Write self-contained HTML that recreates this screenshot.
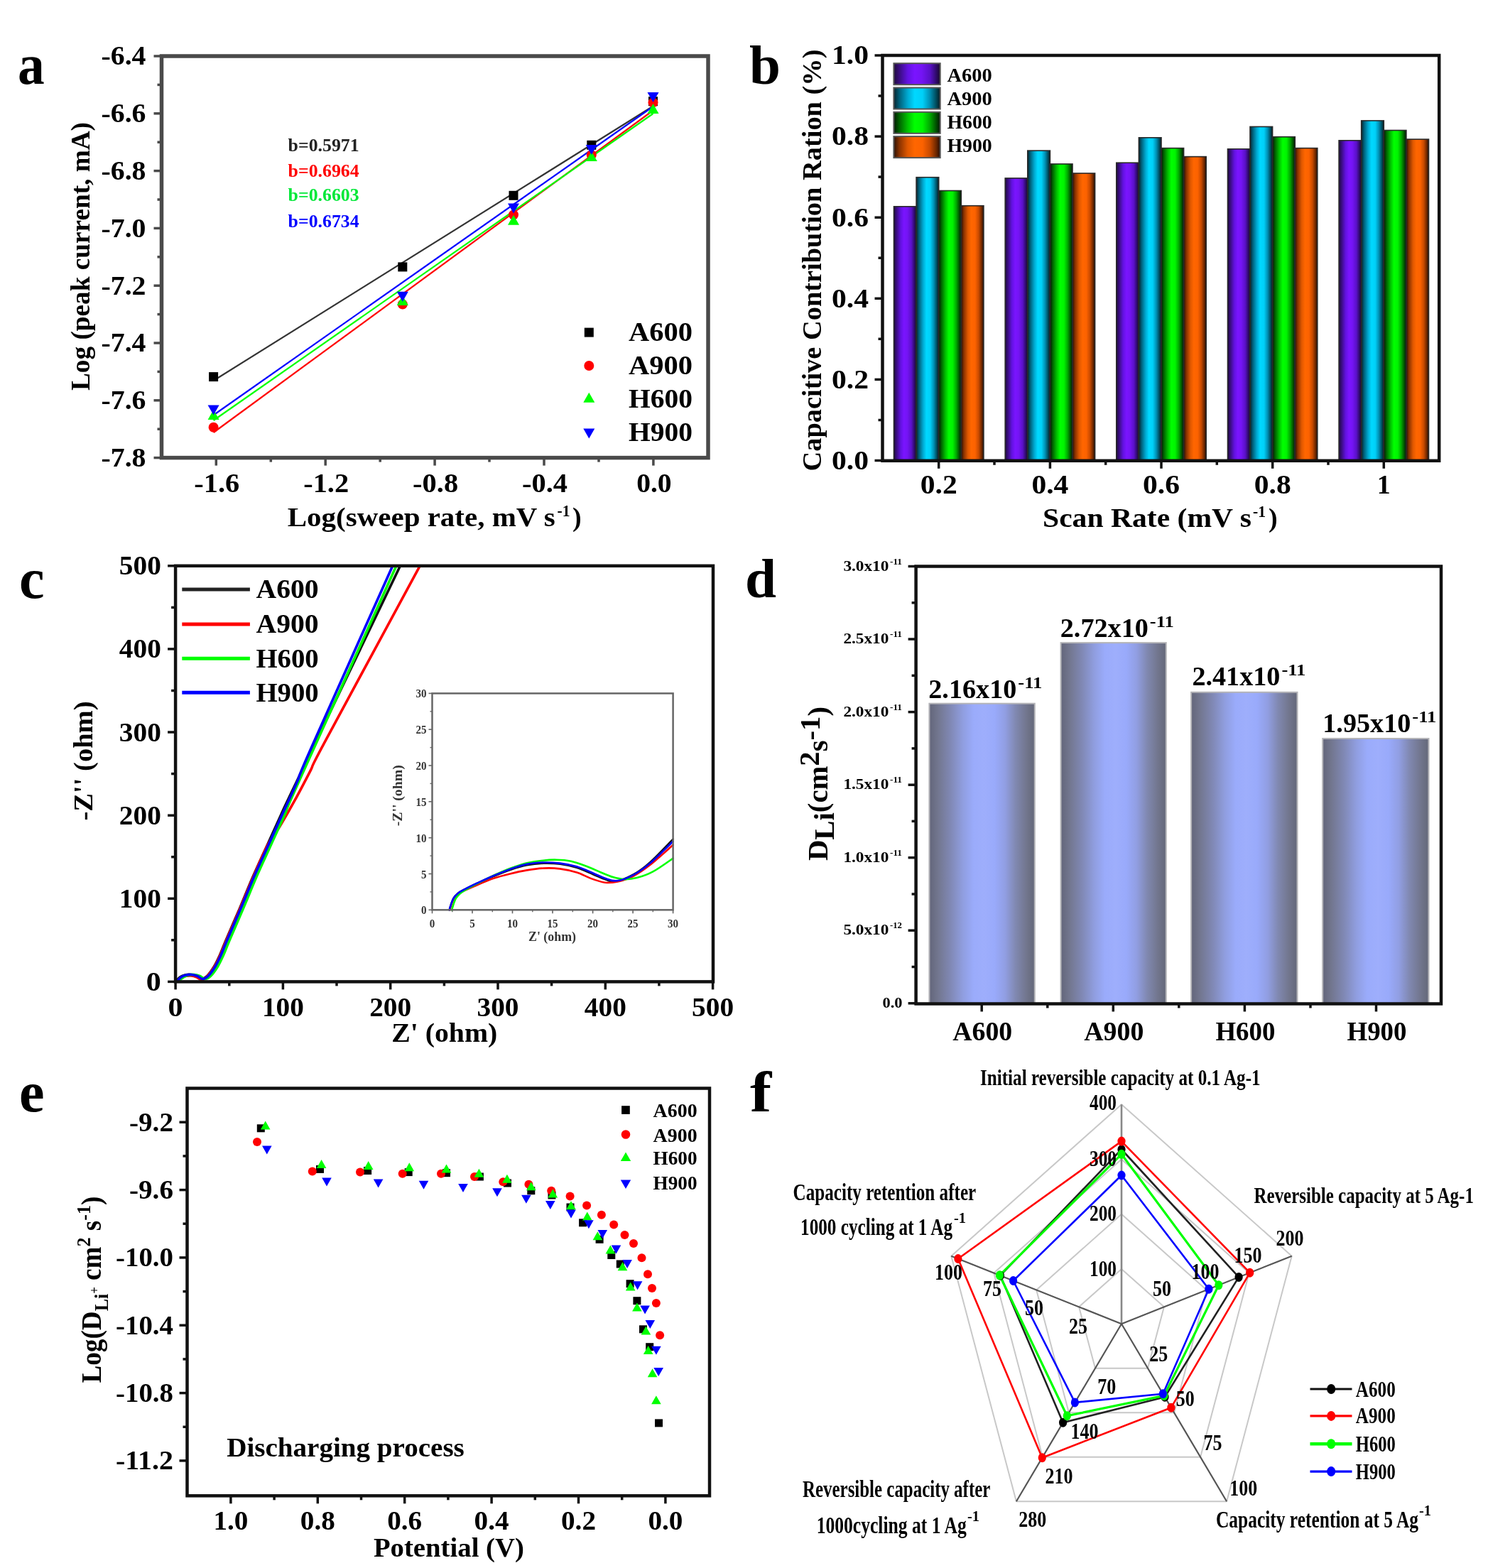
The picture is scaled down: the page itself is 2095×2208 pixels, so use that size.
<!DOCTYPE html><html><head><meta charset="utf-8"><title>Figure</title><style>html,body{margin:0;padding:0;background:#fff;width:2095px;height:2208px;overflow:hidden}svg{display:block}</style></head><body><svg width="2095" height="2208" viewBox="0 0 2095 2208" font-family="'Liberation Serif','Times New Roman',serif" font-weight="bold"><defs><linearGradient id="gpu" x1="0" y1="0" x2="1" y2="0"><stop offset="0" stop-color="#1e0a3c"/><stop offset="0.12" stop-color="#3a0d80"/><stop offset="0.3" stop-color="#6212e0"/><stop offset="0.45" stop-color="#7a14ff"/><stop offset="0.6" stop-color="#7414f4"/><stop offset="0.78" stop-color="#5a10c8"/><stop offset="0.92" stop-color="#2e0a68"/><stop offset="1" stop-color="#180628"/></linearGradient><linearGradient id="gcy" x1="0" y1="0" x2="1" y2="0"><stop offset="0" stop-color="#06232c"/><stop offset="0.12" stop-color="#00607a"/><stop offset="0.3" stop-color="#00a8d0"/><stop offset="0.45" stop-color="#00d8ff"/><stop offset="0.62" stop-color="#00d0f8"/><stop offset="0.78" stop-color="#0090b4"/><stop offset="0.92" stop-color="#004858"/><stop offset="1" stop-color="#041820"/></linearGradient><linearGradient id="ggr" x1="0" y1="0" x2="1" y2="0"><stop offset="0" stop-color="#021802"/><stop offset="0.12" stop-color="#006400"/><stop offset="0.3" stop-color="#00c000"/><stop offset="0.45" stop-color="#00ff00"/><stop offset="0.62" stop-color="#00f400"/><stop offset="0.78" stop-color="#00a800"/><stop offset="0.92" stop-color="#004c00"/><stop offset="1" stop-color="#021402"/></linearGradient><linearGradient id="gor" x1="0" y1="0" x2="1" y2="0"><stop offset="0" stop-color="#2a1004"/><stop offset="0.12" stop-color="#8a3200"/><stop offset="0.3" stop-color="#e05800"/><stop offset="0.45" stop-color="#ff6600"/><stop offset="0.62" stop-color="#fc6200"/><stop offset="0.78" stop-color="#c84a00"/><stop offset="0.92" stop-color="#6a2600"/><stop offset="1" stop-color="#200a02"/></linearGradient><linearGradient id="gbl" x1="0" y1="0" x2="1" y2="0"><stop offset="0" stop-color="#62657a"/><stop offset="0.08" stop-color="#72768e"/><stop offset="0.2" stop-color="#8088b4"/><stop offset="0.32" stop-color="#909ee0"/><stop offset="0.42" stop-color="#9aabfb"/><stop offset="0.52" stop-color="#9eaefc"/><stop offset="0.62" stop-color="#99aafb"/><stop offset="0.72" stop-color="#919ee2"/><stop offset="0.82" stop-color="#8088b0"/><stop offset="0.92" stop-color="#72768e"/><stop offset="1" stop-color="#646879"/></linearGradient><clipPath id="clipc"><rect x="247.1" y="796.8" width="756.9" height="585.6000000000001"/></clipPath></defs><rect width="2095" height="2208" fill="#fff"/><text x="24.9" y="118" font-size="80" textLength="37.7" lengthAdjust="spacingAndGlyphs">a</text>
<line x1="216.5" y1="79" x2="227.5" y2="79" stroke="#4a4a4a" stroke-width="3.5"/>
<text x="205.5" y="91.3" font-size="38" text-anchor="end" textLength="63" lengthAdjust="spacingAndGlyphs">-6.4</text>
<line x1="221.5" y1="119.4" x2="227.5" y2="119.4" stroke="#4a4a4a" stroke-width="3.5"/>
<line x1="216.5" y1="159.8" x2="227.5" y2="159.8" stroke="#4a4a4a" stroke-width="3.5"/>
<text x="205.5" y="172.1" font-size="38" text-anchor="end" textLength="63" lengthAdjust="spacingAndGlyphs">-6.6</text>
<line x1="221.5" y1="200.2" x2="227.5" y2="200.2" stroke="#4a4a4a" stroke-width="3.5"/>
<line x1="216.5" y1="240.6" x2="227.5" y2="240.6" stroke="#4a4a4a" stroke-width="3.5"/>
<text x="205.5" y="252.9" font-size="38" text-anchor="end" textLength="63" lengthAdjust="spacingAndGlyphs">-6.8</text>
<line x1="221.5" y1="281" x2="227.5" y2="281" stroke="#4a4a4a" stroke-width="3.5"/>
<line x1="216.5" y1="321.4" x2="227.5" y2="321.4" stroke="#4a4a4a" stroke-width="3.5"/>
<text x="205.5" y="333.7" font-size="38" text-anchor="end" textLength="63" lengthAdjust="spacingAndGlyphs">-7.0</text>
<line x1="221.5" y1="361.8" x2="227.5" y2="361.8" stroke="#4a4a4a" stroke-width="3.5"/>
<line x1="216.5" y1="402.2" x2="227.5" y2="402.2" stroke="#4a4a4a" stroke-width="3.5"/>
<text x="205.5" y="414.5" font-size="38" text-anchor="end" textLength="63" lengthAdjust="spacingAndGlyphs">-7.2</text>
<line x1="221.5" y1="442.6" x2="227.5" y2="442.6" stroke="#4a4a4a" stroke-width="3.5"/>
<line x1="216.5" y1="483" x2="227.5" y2="483" stroke="#4a4a4a" stroke-width="3.5"/>
<text x="205.5" y="495.3" font-size="38" text-anchor="end" textLength="63" lengthAdjust="spacingAndGlyphs">-7.4</text>
<line x1="221.5" y1="523.4" x2="227.5" y2="523.4" stroke="#4a4a4a" stroke-width="3.5"/>
<line x1="216.5" y1="563.8" x2="227.5" y2="563.8" stroke="#4a4a4a" stroke-width="3.5"/>
<text x="205.5" y="576.1" font-size="38" text-anchor="end" textLength="63" lengthAdjust="spacingAndGlyphs">-7.6</text>
<line x1="221.5" y1="604.2" x2="227.5" y2="604.2" stroke="#4a4a4a" stroke-width="3.5"/>
<line x1="216.5" y1="644.6" x2="227.5" y2="644.6" stroke="#4a4a4a" stroke-width="3.5"/>
<text x="205.5" y="656.9" font-size="38" text-anchor="end" textLength="63" lengthAdjust="spacingAndGlyphs">-7.8</text>
<line x1="304.3" y1="644.6" x2="304.3" y2="655.6" stroke="#4a4a4a" stroke-width="3.5"/>
<text x="305.3" y="693" font-size="38" text-anchor="middle" textLength="64" lengthAdjust="spacingAndGlyphs">-1.6</text>
<line x1="458.2" y1="644.6" x2="458.2" y2="655.6" stroke="#4a4a4a" stroke-width="3.5"/>
<text x="459.2" y="693" font-size="38" text-anchor="middle" textLength="64" lengthAdjust="spacingAndGlyphs">-1.2</text>
<line x1="612.1" y1="644.6" x2="612.1" y2="655.6" stroke="#4a4a4a" stroke-width="3.5"/>
<text x="613.1" y="693" font-size="38" text-anchor="middle" textLength="64" lengthAdjust="spacingAndGlyphs">-0.8</text>
<line x1="766" y1="644.6" x2="766" y2="655.6" stroke="#4a4a4a" stroke-width="3.5"/>
<text x="767" y="693" font-size="38" text-anchor="middle" textLength="64" lengthAdjust="spacingAndGlyphs">-0.4</text>
<line x1="919.9" y1="644.6" x2="919.9" y2="655.6" stroke="#4a4a4a" stroke-width="3.5"/>
<text x="920.9" y="693" font-size="38" text-anchor="middle" textLength="49.5" lengthAdjust="spacingAndGlyphs">0.0</text>
<line x1="381.3" y1="644.6" x2="381.3" y2="650.6" stroke="#4a4a4a" stroke-width="3.5"/>
<line x1="535.2" y1="644.6" x2="535.2" y2="650.6" stroke="#4a4a4a" stroke-width="3.5"/>
<line x1="689" y1="644.6" x2="689" y2="650.6" stroke="#4a4a4a" stroke-width="3.5"/>
<line x1="843" y1="644.6" x2="843" y2="650.6" stroke="#4a4a4a" stroke-width="3.5"/>
<rect x="227.5" y="79" width="769.5" height="565.6" fill="none" stroke="#4a4a4a" stroke-width="5.5"/>
<text x="126.3" y="361" font-size="37.5" text-anchor="middle" textLength="378" lengthAdjust="spacingAndGlyphs" transform="rotate(-90 126.3 361)">Log (peak current, mA)</text>
<text x="404.8" y="740.8" font-size="38" textLength="377" lengthAdjust="spacingAndGlyphs">Log(sweep rate, mV s</text>
<text x="784.5" y="727" font-size="24" textLength="18" lengthAdjust="spacingAndGlyphs">-1</text>
<text x="806" y="740.8" font-size="38">)</text>
<text x="405.6" y="212.5" font-size="26" textLength="100" lengthAdjust="spacingAndGlyphs" fill="#222">b=0.5971</text>
<text x="405.6" y="248.5" font-size="26" textLength="100" lengthAdjust="spacingAndGlyphs" fill="#ff0000">b=0.6964</text>
<text x="405.6" y="282.6" font-size="26" textLength="100" lengthAdjust="spacingAndGlyphs" fill="#00e838">b=0.6603</text>
<text x="405.6" y="320" font-size="26" textLength="100" lengthAdjust="spacingAndGlyphs" fill="#0000ff">b=0.6734</text>
<line x1="300.6" y1="536" x2="919.5" y2="149.5" stroke="#333333" stroke-width="2.2"/>
<line x1="300.6" y1="609" x2="919.5" y2="155.5" stroke="#ff0000" stroke-width="2.2"/>
<line x1="300.6" y1="592" x2="919.5" y2="160" stroke="#00ff00" stroke-width="2.2"/>
<line x1="300.6" y1="584.5" x2="919.5" y2="150" stroke="#0000ff" stroke-width="2.2"/>
<rect x="294.1" y="524.1" width="13" height="13" fill="#000000"/>
<rect x="560.3" y="369.4" width="13" height="13" fill="#000000"/>
<rect x="716.5" y="268.8" width="13" height="13" fill="#000000"/>
<rect x="826.3" y="197.8" width="13" height="13" fill="#000000"/>
<rect x="913" y="136.2" width="13" height="13" fill="#000000"/>
<circle cx="300.6" cy="601.7" r="7" fill="#ff0000"/>
<circle cx="566.8" cy="428.5" r="7" fill="#ff0000"/>
<circle cx="723" cy="302.5" r="7" fill="#ff0000"/>
<circle cx="832.8" cy="218.3" r="7" fill="#ff0000"/>
<circle cx="919.5" cy="144.4" r="7" fill="#ff0000"/>
<polygon points="300.6,576.9 308.6,590.9 292.6,590.9" fill="#00ff00" stroke="#00ff00" stroke-width="0" stroke-linejoin="round"/>
<polygon points="566.8,416 574.8,430 558.8,430" fill="#00ff00" stroke="#00ff00" stroke-width="0" stroke-linejoin="round"/>
<polygon points="723,302.7 731,316.7 715,316.7" fill="#00ff00" stroke="#00ff00" stroke-width="0" stroke-linejoin="round"/>
<polygon points="832.8,213.1 840.8,227.1 824.8,227.1" fill="#00ff00" stroke="#00ff00" stroke-width="0" stroke-linejoin="round"/>
<polygon points="919.5,145.9 927.5,159.9 911.5,159.9" fill="#00ff00" stroke="#00ff00" stroke-width="0" stroke-linejoin="round"/>
<polygon points="300.6,584.5 308.6,570.5 292.6,570.5" fill="#0000ff" stroke="#0000ff" stroke-width="0" stroke-linejoin="round"/>
<polygon points="566.8,424.7 574.8,410.7 558.8,410.7" fill="#0000ff" stroke="#0000ff" stroke-width="0" stroke-linejoin="round"/>
<polygon points="723,300.6 731,286.6 715,286.6" fill="#0000ff" stroke="#0000ff" stroke-width="0" stroke-linejoin="round"/>
<polygon points="832.8,217.9 840.8,203.9 824.8,203.9" fill="#0000ff" stroke="#0000ff" stroke-width="0" stroke-linejoin="round"/>
<polygon points="919.5,144 927.5,130 911.5,130" fill="#0000ff" stroke="#0000ff" stroke-width="0" stroke-linejoin="round"/>
<rect x="822.8" y="461.6" width="13" height="13" fill="#000000"/>
<text x="885" y="480.4" font-size="37" textLength="90" lengthAdjust="spacingAndGlyphs">A600</text>
<circle cx="829.3" cy="515" r="7" fill="#ff0000"/>
<text x="885" y="527.3" font-size="37" textLength="90" lengthAdjust="spacingAndGlyphs">A900</text>
<polygon points="829.3,552.8 837.3,566.8 821.3,566.8" fill="#00ff00" stroke="#00ff00" stroke-width="0" stroke-linejoin="round"/>
<text x="885" y="574.2" font-size="37" textLength="90" lengthAdjust="spacingAndGlyphs">H600</text>
<polygon points="829.3,617.4 837.3,603.4 821.3,603.4" fill="#0000ff" stroke="#0000ff" stroke-width="0" stroke-linejoin="round"/>
<text x="885" y="621.2" font-size="37" textLength="90" lengthAdjust="spacingAndGlyphs">H900</text>
<text x="1055" y="118" font-size="79">b</text>
<rect x="1258.5" y="290.8" width="31.6" height="358" fill="url(#gpu)" stroke="#2a2a2a" stroke-width="1.6"/>
<rect x="1290.1" y="249.7" width="31.6" height="399.1" fill="url(#gcy)" stroke="#2a2a2a" stroke-width="1.6"/>
<rect x="1321.7" y="268.5" width="31.6" height="380.3" fill="url(#ggr)" stroke="#2a2a2a" stroke-width="1.6"/>
<rect x="1353.3" y="289.7" width="31.6" height="359.1" fill="url(#gor)" stroke="#2a2a2a" stroke-width="1.6"/>
<rect x="1415.2" y="250.9" width="31.6" height="397.9" fill="url(#gpu)" stroke="#2a2a2a" stroke-width="1.6"/>
<rect x="1446.8" y="212.1" width="31.6" height="436.7" fill="url(#gcy)" stroke="#2a2a2a" stroke-width="1.6"/>
<rect x="1478.4" y="230.9" width="31.6" height="417.9" fill="url(#ggr)" stroke="#2a2a2a" stroke-width="1.6"/>
<rect x="1510" y="244" width="31.6" height="404.8" fill="url(#gor)" stroke="#2a2a2a" stroke-width="1.6"/>
<rect x="1571.8" y="229.2" width="31.6" height="419.6" fill="url(#gpu)" stroke="#2a2a2a" stroke-width="1.6"/>
<rect x="1603.4" y="193.8" width="31.6" height="455" fill="url(#gcy)" stroke="#2a2a2a" stroke-width="1.6"/>
<rect x="1635" y="208.6" width="31.6" height="440.2" fill="url(#ggr)" stroke="#2a2a2a" stroke-width="1.6"/>
<rect x="1666.6" y="220.6" width="31.6" height="428.2" fill="url(#gor)" stroke="#2a2a2a" stroke-width="1.6"/>
<rect x="1728.5" y="209.8" width="31.6" height="439" fill="url(#gpu)" stroke="#2a2a2a" stroke-width="1.6"/>
<rect x="1760" y="178.4" width="31.6" height="470.4" fill="url(#gcy)" stroke="#2a2a2a" stroke-width="1.6"/>
<rect x="1791.7" y="192.7" width="31.6" height="456.1" fill="url(#ggr)" stroke="#2a2a2a" stroke-width="1.6"/>
<rect x="1823.2" y="208.6" width="31.6" height="440.2" fill="url(#gor)" stroke="#2a2a2a" stroke-width="1.6"/>
<rect x="1885.1" y="197.8" width="31.6" height="451" fill="url(#gpu)" stroke="#2a2a2a" stroke-width="1.6"/>
<rect x="1916.7" y="169.9" width="31.6" height="478.9" fill="url(#gcy)" stroke="#2a2a2a" stroke-width="1.6"/>
<rect x="1948.3" y="183.5" width="31.6" height="465.3" fill="url(#ggr)" stroke="#2a2a2a" stroke-width="1.6"/>
<rect x="1979.9" y="196.1" width="31.6" height="452.7" fill="url(#gor)" stroke="#2a2a2a" stroke-width="1.6"/>
<line x1="1231.5" y1="648.5" x2="1242.5" y2="648.5" stroke="#111" stroke-width="3.5"/>
<text x="1223" y="660.8" font-size="38" text-anchor="end" textLength="52" lengthAdjust="spacingAndGlyphs">0.0</text>
<line x1="1236.5" y1="591.5" x2="1242.5" y2="591.5" stroke="#111" stroke-width="3.5"/>
<line x1="1231.5" y1="534.4" x2="1242.5" y2="534.4" stroke="#111" stroke-width="3.5"/>
<text x="1223" y="546.7" font-size="38" text-anchor="end" textLength="52" lengthAdjust="spacingAndGlyphs">0.2</text>
<line x1="1236.5" y1="477.3" x2="1242.5" y2="477.3" stroke="#111" stroke-width="3.5"/>
<line x1="1231.5" y1="420.3" x2="1242.5" y2="420.3" stroke="#111" stroke-width="3.5"/>
<text x="1223" y="432.6" font-size="38" text-anchor="end" textLength="52" lengthAdjust="spacingAndGlyphs">0.4</text>
<line x1="1236.5" y1="363.2" x2="1242.5" y2="363.2" stroke="#111" stroke-width="3.5"/>
<line x1="1231.5" y1="306.2" x2="1242.5" y2="306.2" stroke="#111" stroke-width="3.5"/>
<text x="1223" y="318.5" font-size="38" text-anchor="end" textLength="52" lengthAdjust="spacingAndGlyphs">0.6</text>
<line x1="1236.5" y1="249.1" x2="1242.5" y2="249.1" stroke="#111" stroke-width="3.5"/>
<line x1="1231.5" y1="192.1" x2="1242.5" y2="192.1" stroke="#111" stroke-width="3.5"/>
<text x="1223" y="204.4" font-size="38" text-anchor="end" textLength="52" lengthAdjust="spacingAndGlyphs">0.8</text>
<line x1="1236.5" y1="135" x2="1242.5" y2="135" stroke="#111" stroke-width="3.5"/>
<line x1="1231.5" y1="78" x2="1242.5" y2="78" stroke="#111" stroke-width="3.5"/>
<text x="1223" y="90.3" font-size="38" text-anchor="end" textLength="52" lengthAdjust="spacingAndGlyphs">1.0</text>
<line x1="1321.7" y1="648.8" x2="1321.7" y2="659.8" stroke="#111" stroke-width="3.5"/>
<text x="1321.7" y="695.4" font-size="38" text-anchor="middle" textLength="52" lengthAdjust="spacingAndGlyphs">0.2</text>
<line x1="1400" y1="648.8" x2="1400" y2="654.8" stroke="#111" stroke-width="3.5"/>
<line x1="1478.4" y1="648.8" x2="1478.4" y2="659.8" stroke="#111" stroke-width="3.5"/>
<text x="1478.4" y="695.4" font-size="38" text-anchor="middle" textLength="52" lengthAdjust="spacingAndGlyphs">0.4</text>
<line x1="1556.7" y1="648.8" x2="1556.7" y2="654.8" stroke="#111" stroke-width="3.5"/>
<line x1="1635" y1="648.8" x2="1635" y2="659.8" stroke="#111" stroke-width="3.5"/>
<text x="1635" y="695.4" font-size="38" text-anchor="middle" textLength="52" lengthAdjust="spacingAndGlyphs">0.6</text>
<line x1="1713.3" y1="648.8" x2="1713.3" y2="654.8" stroke="#111" stroke-width="3.5"/>
<line x1="1791.7" y1="648.8" x2="1791.7" y2="659.8" stroke="#111" stroke-width="3.5"/>
<text x="1791.7" y="695.4" font-size="38" text-anchor="middle" textLength="52" lengthAdjust="spacingAndGlyphs">0.8</text>
<line x1="1870" y1="648.8" x2="1870" y2="654.8" stroke="#111" stroke-width="3.5"/>
<line x1="1948.3" y1="648.8" x2="1948.3" y2="659.8" stroke="#111" stroke-width="3.5"/>
<text x="1948.3" y="695.4" font-size="38" text-anchor="middle">1</text>
<rect x="1242.5" y="78" width="783.7" height="570.8" fill="none" stroke="#111" stroke-width="4.5"/>
<text x="1156" y="366.5" font-size="38" text-anchor="middle" textLength="594" lengthAdjust="spacingAndGlyphs" transform="rotate(-90 1156 366.5)">Capacitive Contribution Ration (%)</text>
<text x="1468" y="741.5" font-size="38" textLength="294" lengthAdjust="spacingAndGlyphs">Scan Rate (mV s</text>
<text x="1764" y="727.5" font-size="24" textLength="18" lengthAdjust="spacingAndGlyphs">-1</text>
<text x="1786" y="741.5" font-size="38">)</text>
<rect x="1258.4" y="89.2" width="65.3" height="30" fill="url(#gpu)" stroke="#555" stroke-width="2"/>
<text x="1333.4" y="115.3" font-size="28" textLength="63.4" lengthAdjust="spacingAndGlyphs">A600</text>
<rect x="1258.4" y="123.5" width="65.3" height="30" fill="url(#gcy)" stroke="#555" stroke-width="2"/>
<text x="1333.4" y="148.3" font-size="28" textLength="63.4" lengthAdjust="spacingAndGlyphs">A900</text>
<rect x="1258.4" y="157.8" width="65.3" height="30" fill="url(#ggr)" stroke="#555" stroke-width="2"/>
<text x="1333.4" y="181.3" font-size="28" textLength="63.4" lengthAdjust="spacingAndGlyphs">H600</text>
<rect x="1258.4" y="192.1" width="65.3" height="30" fill="url(#gor)" stroke="#555" stroke-width="2"/>
<text x="1333.4" y="214.3" font-size="28" textLength="63.4" lengthAdjust="spacingAndGlyphs">H900</text>
<text x="27" y="842" font-size="80">c</text>
<line x1="236.1" y1="1382.4" x2="247.1" y2="1382.4" stroke="#111" stroke-width="3.5"/>
<text x="226.8" y="1394.9" font-size="38" text-anchor="end" textLength="21" lengthAdjust="spacingAndGlyphs">0</text>
<line x1="247.1" y1="1382.4" x2="247.1" y2="1393.4" stroke="#111" stroke-width="3.5"/>
<text x="247.1" y="1431.4" font-size="38" text-anchor="middle" textLength="21" lengthAdjust="spacingAndGlyphs">0</text>
<line x1="241.1" y1="1323.8" x2="247.1" y2="1323.8" stroke="#111" stroke-width="3.5"/>
<line x1="322.8" y1="1382.4" x2="322.8" y2="1388.4" stroke="#111" stroke-width="3.5"/>
<line x1="236.1" y1="1265.3" x2="247.1" y2="1265.3" stroke="#111" stroke-width="3.5"/>
<text x="226.8" y="1277.8" font-size="38" text-anchor="end" textLength="59" lengthAdjust="spacingAndGlyphs">100</text>
<line x1="398.4" y1="1382.4" x2="398.4" y2="1393.4" stroke="#111" stroke-width="3.5"/>
<text x="398.4" y="1431.4" font-size="38" text-anchor="middle" textLength="59" lengthAdjust="spacingAndGlyphs">100</text>
<line x1="241.1" y1="1206.7" x2="247.1" y2="1206.7" stroke="#111" stroke-width="3.5"/>
<line x1="474" y1="1382.4" x2="474" y2="1388.4" stroke="#111" stroke-width="3.5"/>
<line x1="236.1" y1="1148.2" x2="247.1" y2="1148.2" stroke="#111" stroke-width="3.5"/>
<text x="226.8" y="1160.7" font-size="38" text-anchor="end" textLength="59" lengthAdjust="spacingAndGlyphs">200</text>
<line x1="549.7" y1="1382.4" x2="549.7" y2="1393.4" stroke="#111" stroke-width="3.5"/>
<text x="549.7" y="1431.4" font-size="38" text-anchor="middle" textLength="59" lengthAdjust="spacingAndGlyphs">200</text>
<line x1="241.1" y1="1089.6" x2="247.1" y2="1089.6" stroke="#111" stroke-width="3.5"/>
<line x1="625.4" y1="1382.4" x2="625.4" y2="1388.4" stroke="#111" stroke-width="3.5"/>
<line x1="236.1" y1="1031" x2="247.1" y2="1031" stroke="#111" stroke-width="3.5"/>
<text x="226.8" y="1043.5" font-size="38" text-anchor="end" textLength="59" lengthAdjust="spacingAndGlyphs">300</text>
<line x1="701" y1="1382.4" x2="701" y2="1393.4" stroke="#111" stroke-width="3.5"/>
<text x="701" y="1431.4" font-size="38" text-anchor="middle" textLength="59" lengthAdjust="spacingAndGlyphs">300</text>
<line x1="241.1" y1="972.5" x2="247.1" y2="972.5" stroke="#111" stroke-width="3.5"/>
<line x1="776.6" y1="1382.4" x2="776.6" y2="1388.4" stroke="#111" stroke-width="3.5"/>
<line x1="236.1" y1="913.9" x2="247.1" y2="913.9" stroke="#111" stroke-width="3.5"/>
<text x="226.8" y="926.4" font-size="38" text-anchor="end" textLength="59" lengthAdjust="spacingAndGlyphs">400</text>
<line x1="852.3" y1="1382.4" x2="852.3" y2="1393.4" stroke="#111" stroke-width="3.5"/>
<text x="852.3" y="1431.4" font-size="38" text-anchor="middle" textLength="59" lengthAdjust="spacingAndGlyphs">400</text>
<line x1="241.1" y1="855.4" x2="247.1" y2="855.4" stroke="#111" stroke-width="3.5"/>
<line x1="927.9" y1="1382.4" x2="927.9" y2="1388.4" stroke="#111" stroke-width="3.5"/>
<line x1="236.1" y1="796.8" x2="247.1" y2="796.8" stroke="#111" stroke-width="3.5"/>
<text x="226.8" y="809.3" font-size="38" text-anchor="end" textLength="59" lengthAdjust="spacingAndGlyphs">500</text>
<line x1="1003.6" y1="1382.4" x2="1003.6" y2="1393.4" stroke="#111" stroke-width="3.5"/>
<text x="1003.6" y="1431.4" font-size="38" text-anchor="middle" textLength="59" lengthAdjust="spacingAndGlyphs">500</text>
<text x="129.7" y="1071.5" font-size="38" text-anchor="middle" textLength="168" lengthAdjust="spacingAndGlyphs" transform="rotate(-90 129.7 1071.5)">-Z'' (ohm)</text>
<text x="551.3" y="1467.4" font-size="38" textLength="149" lengthAdjust="spacingAndGlyphs">Z' (ohm)</text>
<g clip-path="url(#clipc)">
<path d="M248,1381.5 C248.9,1380.6 251.4,1377.4 253.5,1376 C255.6,1374.6 258,1373.6 260.5,1373 C263,1372.4 265.8,1372.2 268.5,1372.5 C271.2,1372.8 274,1373.5 276.5,1374.5 C279,1375.5 281,1378.5 283.5,1378.5 C286,1378.5 288.5,1377.4 291.5,1374.5 C294.5,1371.6 298.5,1365.9 301.5,1361 C304.5,1356.1 306.8,1350.9 309.5,1345 C312.2,1339.1 312.9,1336.3 317.5,1325.5 C322.1,1314.7 330.5,1295.5 337.1,1280.1 C343.7,1264.6 350.3,1247.9 356.9,1232.8 C363.5,1217.7 370,1203.9 376.6,1189.4 C383.2,1174.9 389.4,1160.9 396.3,1146 C403.2,1131.1 389.8,1158.8 418,1100 C446.2,1041.2 540.8,844.2 565.3,793" fill="none" stroke="#111" stroke-width="3.6" stroke-linejoin="round" stroke-linecap="round"/>
<path d="M248.5,1383 C249.4,1382.1 251.9,1378.9 254,1377.5 C256.1,1376.1 258.5,1375.1 261,1374.5 C263.5,1373.9 266.3,1373.8 269,1374 C271.7,1374.2 274.5,1375 277,1376 C279.5,1377 281.5,1380.2 284,1380 C286.5,1379.8 289,1377.7 292,1374.5 C295,1371.3 299,1365.9 302,1361 C305,1356.1 307.3,1350.9 310,1345 C312.7,1339.1 313.4,1336.3 318,1325.5 C322.6,1314.7 331,1295.5 337.6,1280.1 C344.2,1264.6 350.8,1247.9 357.4,1232.8 C364,1217.7 371,1200.9 377.1,1189.4 C383.2,1177.9 387.1,1174.9 393.9,1163.7 C400.6,1152.5 410.4,1135.5 417.6,1122.3 C424.8,1109.1 430.7,1097.6 437.3,1084.8 C443.9,1072 431,1094 457,1045.4 C483,996.8 570.6,835.1 593.3,793" fill="none" stroke="#ff0000" stroke-width="3.6" stroke-linejoin="round" stroke-linecap="round"/>
<path d="M251,1381.5 C252.2,1380.6 256.1,1377.4 258.5,1376 C260.9,1374.6 263,1373.6 265.5,1373 C268,1372.4 270.8,1372.2 273.5,1372.5 C276.2,1372.8 279,1373.5 281.5,1374.5 C284,1375.5 286,1378.5 288.5,1378.5 C291,1378.5 293.5,1377.4 296.5,1374.5 C299.5,1371.6 303.5,1365.9 306.5,1361 C309.5,1356.1 311.8,1350.9 314.5,1345 C317.2,1339.1 317.9,1336.3 322.5,1325.5 C327.1,1314.7 335.5,1295.5 342.1,1280.1 C348.7,1264.6 355.3,1247.9 361.9,1232.8 C368.5,1217.7 375,1203.9 381.6,1189.4 C388.2,1174.9 394.7,1160.9 401.3,1146 C407.9,1131.1 394.6,1158.8 421,1100 C447.4,1041.2 536.6,844.2 559.7,793" fill="none" stroke="#00ff00" stroke-width="3.6" stroke-linejoin="round" stroke-linecap="round"/>
<path d="M249.5,1381.5 C250.4,1380.6 252.9,1377.4 255,1376 C257.1,1374.6 259.5,1373.6 262,1373 C264.5,1372.4 267.3,1372.2 270,1372.5 C272.7,1372.8 275.5,1373.5 278,1374.5 C280.5,1375.5 282.5,1378.5 285,1378.5 C287.5,1378.5 290,1377.4 293,1374.5 C296,1371.6 300,1365.9 303,1361 C306,1356.1 308.3,1350.9 311,1345 C313.7,1339.1 314.4,1336.3 319,1325.5 C323.6,1314.7 332,1295.5 338.6,1280.1 C345.2,1264.6 351.8,1247.9 358.4,1232.8 C365,1217.7 371.5,1203.9 378.1,1189.4 C384.7,1174.9 391.2,1160.5 397.8,1146 C404.4,1131.5 411,1117.7 417.6,1102.6 C424.2,1087.5 414.5,1106.8 437.3,1055.2 C460.1,1003.6 535,836.7 554.5,793" fill="none" stroke="#0000ff" stroke-width="3.6" stroke-linejoin="round" stroke-linecap="round"/>
</g>
<rect x="247.1" y="796.8" width="756.9" height="585.6" fill="none" stroke="#111" stroke-width="4.5"/>
<line x1="256.3" y1="829.9" x2="351.9" y2="829.9" stroke="#222" stroke-width="5"/>
<text x="360.5" y="842.2" font-size="37" textLength="88.2" lengthAdjust="spacingAndGlyphs">A600</text>
<line x1="256.3" y1="879" x2="351.9" y2="879" stroke="#ff0000" stroke-width="5"/>
<text x="360.5" y="891.3" font-size="37" textLength="88.2" lengthAdjust="spacingAndGlyphs">A900</text>
<line x1="256.3" y1="927.2" x2="351.9" y2="927.2" stroke="#00ff00" stroke-width="5"/>
<text x="360.5" y="939.5" font-size="37" textLength="88.2" lengthAdjust="spacingAndGlyphs">H600</text>
<line x1="256.3" y1="975.3" x2="351.9" y2="975.3" stroke="#0000ff" stroke-width="5"/>
<text x="360.5" y="987.6" font-size="37" textLength="88.2" lengthAdjust="spacingAndGlyphs">H900</text>
<line x1="603.5" y1="1281.3" x2="608.5" y2="1281.3" stroke="#666" stroke-width="1.6"/>
<line x1="608.5" y1="1281.3" x2="608.5" y2="1286.3" stroke="#666" stroke-width="1.6"/>
<text x="600.5" y="1287.3" font-size="17" text-anchor="end" textLength="7.5" lengthAdjust="spacingAndGlyphs" fill="#333">0</text>
<text x="608.5" y="1306.3" font-size="17" text-anchor="middle" textLength="7.5" lengthAdjust="spacingAndGlyphs" fill="#333">0</text>
<line x1="605.5" y1="1255.9" x2="608.5" y2="1255.9" stroke="#666" stroke-width="1.4"/>
<line x1="636.8" y1="1281.3" x2="636.8" y2="1284.3" stroke="#666" stroke-width="1.4"/>
<line x1="603.5" y1="1230.5" x2="608.5" y2="1230.5" stroke="#666" stroke-width="1.6"/>
<line x1="665" y1="1281.3" x2="665" y2="1286.3" stroke="#666" stroke-width="1.6"/>
<text x="600.5" y="1236.5" font-size="17" text-anchor="end" textLength="7.5" lengthAdjust="spacingAndGlyphs" fill="#333">5</text>
<text x="665" y="1306.3" font-size="17" text-anchor="middle" textLength="7.5" lengthAdjust="spacingAndGlyphs" fill="#333">5</text>
<line x1="605.5" y1="1205.1" x2="608.5" y2="1205.1" stroke="#666" stroke-width="1.4"/>
<line x1="693.3" y1="1281.3" x2="693.3" y2="1284.3" stroke="#666" stroke-width="1.4"/>
<line x1="603.5" y1="1179.7" x2="608.5" y2="1179.7" stroke="#666" stroke-width="1.6"/>
<line x1="721.5" y1="1281.3" x2="721.5" y2="1286.3" stroke="#666" stroke-width="1.6"/>
<text x="600.5" y="1185.7" font-size="17" text-anchor="end" textLength="15" lengthAdjust="spacingAndGlyphs" fill="#333">10</text>
<text x="721.5" y="1306.3" font-size="17" text-anchor="middle" textLength="15" lengthAdjust="spacingAndGlyphs" fill="#333">10</text>
<line x1="605.5" y1="1154.3" x2="608.5" y2="1154.3" stroke="#666" stroke-width="1.4"/>
<line x1="749.8" y1="1281.3" x2="749.8" y2="1284.3" stroke="#666" stroke-width="1.4"/>
<line x1="603.5" y1="1128.8" x2="608.5" y2="1128.8" stroke="#666" stroke-width="1.6"/>
<line x1="778" y1="1281.3" x2="778" y2="1286.3" stroke="#666" stroke-width="1.6"/>
<text x="600.5" y="1134.8" font-size="17" text-anchor="end" textLength="15" lengthAdjust="spacingAndGlyphs" fill="#333">15</text>
<text x="778" y="1306.3" font-size="17" text-anchor="middle" textLength="15" lengthAdjust="spacingAndGlyphs" fill="#333">15</text>
<line x1="605.5" y1="1103.4" x2="608.5" y2="1103.4" stroke="#666" stroke-width="1.4"/>
<line x1="806.3" y1="1281.3" x2="806.3" y2="1284.3" stroke="#666" stroke-width="1.4"/>
<line x1="603.5" y1="1078" x2="608.5" y2="1078" stroke="#666" stroke-width="1.6"/>
<line x1="834.6" y1="1281.3" x2="834.6" y2="1286.3" stroke="#666" stroke-width="1.6"/>
<text x="600.5" y="1084" font-size="17" text-anchor="end" textLength="15" lengthAdjust="spacingAndGlyphs" fill="#333">20</text>
<text x="834.6" y="1306.3" font-size="17" text-anchor="middle" textLength="15" lengthAdjust="spacingAndGlyphs" fill="#333">20</text>
<line x1="605.5" y1="1052.6" x2="608.5" y2="1052.6" stroke="#666" stroke-width="1.4"/>
<line x1="862.8" y1="1281.3" x2="862.8" y2="1284.3" stroke="#666" stroke-width="1.4"/>
<line x1="603.5" y1="1027.2" x2="608.5" y2="1027.2" stroke="#666" stroke-width="1.6"/>
<line x1="891.1" y1="1281.3" x2="891.1" y2="1286.3" stroke="#666" stroke-width="1.6"/>
<text x="600.5" y="1033.2" font-size="17" text-anchor="end" textLength="15" lengthAdjust="spacingAndGlyphs" fill="#333">25</text>
<text x="891.1" y="1306.3" font-size="17" text-anchor="middle" textLength="15" lengthAdjust="spacingAndGlyphs" fill="#333">25</text>
<line x1="605.5" y1="1001.8" x2="608.5" y2="1001.8" stroke="#666" stroke-width="1.4"/>
<line x1="919.3" y1="1281.3" x2="919.3" y2="1284.3" stroke="#666" stroke-width="1.4"/>
<line x1="603.5" y1="976.4" x2="608.5" y2="976.4" stroke="#666" stroke-width="1.6"/>
<line x1="947.6" y1="1281.3" x2="947.6" y2="1286.3" stroke="#666" stroke-width="1.6"/>
<text x="600.5" y="982.4" font-size="17" text-anchor="end" textLength="15" lengthAdjust="spacingAndGlyphs" fill="#333">30</text>
<text x="947.6" y="1306.3" font-size="17" text-anchor="middle" textLength="15" lengthAdjust="spacingAndGlyphs" fill="#333">30</text>
<text x="777.5" y="1325" font-size="18" text-anchor="middle" textLength="67" lengthAdjust="spacingAndGlyphs" fill="#333">Z' (ohm)</text>
<text x="566" y="1120.3" font-size="18" text-anchor="middle" textLength="86" lengthAdjust="spacingAndGlyphs" fill="#333" transform="rotate(-90 566 1120.3)">-Z'' (ohm)</text>
<path d="M632.8,1281.3 C633.1,1280.3 633.6,1277.9 634.5,1275.2 C635.4,1272.5 636.8,1267.9 638.5,1265 C640.1,1262.2 642.3,1259.9 644.7,1257.9 C647,1255.9 648.1,1255.4 652.6,1253.1 C657,1250.9 664.3,1247.4 671.3,1244.2 C678.4,1241 686.9,1237.3 694.7,1234 C702.6,1230.8 710.4,1227.5 718.3,1224.9 C726.1,1222.3 733.9,1219.8 741.8,1218.3 C749.6,1216.8 757.4,1216 765.2,1215.7 C773,1215.5 780.8,1215.7 788.6,1216.8 C796.4,1217.8 804.1,1219.4 812,1221.8 C819.8,1224.3 828.7,1228.7 835.5,1231.5 C842.3,1234.3 847.5,1237 852.7,1238.6 C857.8,1240.3 859.7,1242.6 866.2,1241.5 C872.7,1240.3 883.6,1236 891.8,1231.5 C899.9,1227 906,1222.5 915.3,1214.2 C924.6,1205.9 942.2,1187.1 947.6,1181.7" fill="none" stroke="#111" stroke-width="2.6" stroke-linejoin="round" stroke-linecap="round"/>
<path d="M633.4,1281.3 C633.6,1280.3 634.1,1277.8 635.1,1275.2 C636,1272.6 637.3,1268.3 639,1265.5 C640.7,1262.8 642.9,1260.8 645.2,1258.9 C647.6,1257.1 648.7,1256.5 653.1,1254.4 C657.6,1252.2 664.9,1249.1 671.8,1246.2 C678.7,1243.4 686.7,1239.7 694.4,1237.1 C702.1,1234.5 710.2,1232.4 718.1,1230.5 C726.1,1228.5 734,1226.7 741.9,1225.4 C749.8,1224.1 757.9,1222.9 765.6,1222.6 C773.3,1222.2 780.5,1222.4 788.2,1223.4 C795.9,1224.4 804.6,1226.2 812,1228.5 C819.3,1230.7 825.7,1234.7 832.3,1237.1 C838.9,1239.5 845.5,1241.9 851.5,1242.7 C857.6,1243.4 861.9,1243.1 868.5,1241.7 C875.1,1240.2 883.4,1237.9 891.1,1234 C898.8,1230.1 905.4,1225.7 914.8,1218.3 C924.2,1210.9 942.1,1194.6 947.6,1189.8" fill="none" stroke="#ff0000" stroke-width="2.6" stroke-linejoin="round" stroke-linecap="round"/>
<path d="M636.2,1281.3 C636.5,1280.3 636.9,1277.9 637.9,1275.2 C638.8,1272.5 640.1,1267.9 641.8,1265 C643.5,1262.2 645.7,1260 648.1,1257.9 C650.4,1255.9 651.6,1255.3 656,1252.8 C660.3,1250.4 667.3,1246.7 674.1,1243.2 C680.8,1239.7 689.1,1235.5 696.7,1232 C704.2,1228.5 711.7,1225.1 719.3,1222.4 C726.8,1219.6 734.3,1217 741.9,1215.2 C749.4,1213.5 757.5,1212.4 764.5,1211.7 C771.5,1210.9 777.1,1210.5 783.7,1210.7 C790.3,1210.8 797.1,1211.2 804,1212.7 C811,1214.2 818.6,1217.2 825.5,1219.8 C832.5,1222.4 839.7,1225.9 845.9,1228.5 C852.1,1231 857.4,1233.4 862.8,1235.1 C868.3,1236.7 873,1237.9 878.6,1238.1 C884.3,1238.3 890,1237.9 896.7,1236.1 C903.5,1234.3 910.9,1232 919.3,1227.4 C927.8,1222.9 942.9,1211.8 947.6,1208.6" fill="none" stroke="#00ff00" stroke-width="2.6" stroke-linejoin="round" stroke-linecap="round"/>
<path d="M632.6,1281.3 C632.9,1280.3 633.5,1277.9 634.5,1275.2 C635.5,1272.5 636.8,1267.9 638.5,1265 C640.1,1262.2 642.3,1259.9 644.7,1257.9 C647,1255.9 648.1,1255.5 652.6,1253.1 C657,1250.8 664.3,1247.1 671.3,1243.8 C678.4,1240.5 686.9,1236.5 694.7,1233.2 C702.6,1229.9 710.4,1226.6 718.3,1223.9 C726.1,1221.2 733.9,1218.4 741.8,1216.9 C749.6,1215.3 757.4,1214.7 765.2,1214.5 C773,1214.3 780.8,1214.7 788.6,1215.6 C796.4,1216.6 804.1,1218 812,1220.3 C819.8,1222.7 828.8,1226.9 835.5,1229.7 C842.1,1232.4 846.4,1235 851.9,1236.8 C857.4,1238.6 861.8,1241.1 868.5,1240.3 C875.1,1239.6 884,1236.2 891.8,1232.1 C899.6,1228 906,1223.5 915.3,1215.6 C924.6,1207.8 942.2,1189.9 947.6,1184.7" fill="none" stroke="#0000ff" stroke-width="2.6" stroke-linejoin="round" stroke-linecap="round"/>
<rect x="608.5" y="976.4" width="339.1" height="304.9" fill="none" stroke="#666" stroke-width="2.5"/>
<text x="1049" y="841" font-size="79">d</text>
<rect x="1308.4" y="990.7" width="148.4" height="422.8" fill="url(#gbl)" stroke="#b4b4b8" stroke-width="2"/>
<rect x="1493.6" y="905.1" width="148.2" height="508.4" fill="url(#gbl)" stroke="#b4b4b8" stroke-width="2"/>
<rect x="1677.1" y="974.8" width="149.4" height="438.7" fill="url(#gbl)" stroke="#b4b4b8" stroke-width="2"/>
<rect x="1862.2" y="1040" width="149.3" height="373.5" fill="url(#gbl)" stroke="#b4b4b8" stroke-width="2"/>
<line x1="1278.6" y1="1412.8" x2="1289.6" y2="1412.8" stroke="#111" stroke-width="3.5"/>
<line x1="1283.6" y1="1361.5" x2="1289.6" y2="1361.5" stroke="#111" stroke-width="3.5"/>
<text x="1270.5" y="1418.8" font-size="20" text-anchor="end" textLength="28" lengthAdjust="spacingAndGlyphs">0.0</text>
<line x1="1278.6" y1="1310.2" x2="1289.6" y2="1310.2" stroke="#111" stroke-width="3.5"/>
<line x1="1283.6" y1="1259" x2="1289.6" y2="1259" stroke="#111" stroke-width="3.5"/>
<text x="1187.4" y="1316.2" font-size="20" textLength="64" lengthAdjust="spacingAndGlyphs">5.0x10</text>
<text x="1253" y="1307.2" font-size="13" textLength="17" lengthAdjust="spacingAndGlyphs">-12</text>
<line x1="1278.6" y1="1207.7" x2="1289.6" y2="1207.7" stroke="#111" stroke-width="3.5"/>
<line x1="1283.6" y1="1156.4" x2="1289.6" y2="1156.4" stroke="#111" stroke-width="3.5"/>
<text x="1187.4" y="1213.7" font-size="20" textLength="64" lengthAdjust="spacingAndGlyphs">1.0x10</text>
<text x="1253" y="1204.7" font-size="13" textLength="17" lengthAdjust="spacingAndGlyphs">-11</text>
<line x1="1278.6" y1="1105.2" x2="1289.6" y2="1105.2" stroke="#111" stroke-width="3.5"/>
<line x1="1283.6" y1="1053.9" x2="1289.6" y2="1053.9" stroke="#111" stroke-width="3.5"/>
<text x="1187.4" y="1111.2" font-size="20" textLength="64" lengthAdjust="spacingAndGlyphs">1.5x10</text>
<text x="1253" y="1102.2" font-size="13" textLength="17" lengthAdjust="spacingAndGlyphs">-11</text>
<line x1="1278.6" y1="1002.6" x2="1289.6" y2="1002.6" stroke="#111" stroke-width="3.5"/>
<line x1="1283.6" y1="951.3" x2="1289.6" y2="951.3" stroke="#111" stroke-width="3.5"/>
<text x="1187.4" y="1008.6" font-size="20" textLength="64" lengthAdjust="spacingAndGlyphs">2.0x10</text>
<text x="1253" y="999.6" font-size="13" textLength="17" lengthAdjust="spacingAndGlyphs">-11</text>
<line x1="1278.6" y1="900" x2="1289.6" y2="900" stroke="#111" stroke-width="3.5"/>
<line x1="1283.6" y1="848.8" x2="1289.6" y2="848.8" stroke="#111" stroke-width="3.5"/>
<text x="1187.4" y="906" font-size="20" textLength="64" lengthAdjust="spacingAndGlyphs">2.5x10</text>
<text x="1253" y="897" font-size="13" textLength="17" lengthAdjust="spacingAndGlyphs">-11</text>
<line x1="1278.6" y1="797.5" x2="1289.6" y2="797.5" stroke="#111" stroke-width="3.5"/>
<text x="1187.4" y="803.5" font-size="20" textLength="64" lengthAdjust="spacingAndGlyphs">3.0x10</text>
<text x="1253" y="794.5" font-size="13" textLength="17" lengthAdjust="spacingAndGlyphs">-11</text>
<line x1="1382.2" y1="1413.5" x2="1382.2" y2="1424.5" stroke="#111" stroke-width="3.5"/>
<text x="1383.2" y="1465.2" font-size="38" text-anchor="middle" textLength="84" lengthAdjust="spacingAndGlyphs">A600</text>
<line x1="1474.8" y1="1413.5" x2="1474.8" y2="1419.5" stroke="#111" stroke-width="3.5"/>
<line x1="1567.3" y1="1413.5" x2="1567.3" y2="1424.5" stroke="#111" stroke-width="3.5"/>
<text x="1568.3" y="1465.2" font-size="38" text-anchor="middle" textLength="84" lengthAdjust="spacingAndGlyphs">A900</text>
<line x1="1659.8" y1="1413.5" x2="1659.8" y2="1419.5" stroke="#111" stroke-width="3.5"/>
<line x1="1752.4" y1="1413.5" x2="1752.4" y2="1424.5" stroke="#111" stroke-width="3.5"/>
<text x="1753.4" y="1465.2" font-size="38" text-anchor="middle" textLength="84" lengthAdjust="spacingAndGlyphs">H600</text>
<line x1="1845" y1="1413.5" x2="1845" y2="1419.5" stroke="#111" stroke-width="3.5"/>
<line x1="1937.5" y1="1413.5" x2="1937.5" y2="1424.5" stroke="#111" stroke-width="3.5"/>
<text x="1938.5" y="1465.2" font-size="38" text-anchor="middle" textLength="84" lengthAdjust="spacingAndGlyphs">H900</text>
<rect x="1289.6" y="797.5" width="739.4" height="616" fill="none" stroke="#111" stroke-width="4.5"/>
<text x="1307.3" y="983.3" font-size="38" textLength="124" lengthAdjust="spacingAndGlyphs">2.16x10</text>
<text x="1433.3" y="969.3" font-size="23" textLength="34" lengthAdjust="spacingAndGlyphs">-11</text>
<text x="1492.8" y="896.7" font-size="38" textLength="124" lengthAdjust="spacingAndGlyphs">2.72x10</text>
<text x="1618.8" y="882.7" font-size="23" textLength="34" lengthAdjust="spacingAndGlyphs">-11</text>
<text x="1678.4" y="965.3" font-size="38" textLength="124" lengthAdjust="spacingAndGlyphs">2.41x10</text>
<text x="1804.4" y="951.3" font-size="23" textLength="34" lengthAdjust="spacingAndGlyphs">-11</text>
<text x="1862.3" y="1030.5" font-size="38" textLength="124" lengthAdjust="spacingAndGlyphs">1.95x10</text>
<text x="1988.3" y="1016.5" font-size="23" textLength="34" lengthAdjust="spacingAndGlyphs">-11</text>
<text transform="translate(1165.3,1212) rotate(-90)" font-size="40" textLength="217" lengthAdjust="spacingAndGlyphs"><tspan>D</tspan><tspan dy="8.5">Li</tspan><tspan dy="-8.5">(cm</tspan><tspan dy="-12.7">2</tspan><tspan dy="12.7">s</tspan><tspan dy="-11.5">-1</tspan><tspan dy="11.5">)</tspan></text>
<text x="27" y="1565" font-size="80">e</text>
<line x1="252.5" y1="1580.2" x2="263.5" y2="1580.2" stroke="#111" stroke-width="3.5"/>
<text x="244" y="1592.7" font-size="38" text-anchor="end" textLength="62" lengthAdjust="spacingAndGlyphs">-9.2</text>
<line x1="252.5" y1="1675.6" x2="263.5" y2="1675.6" stroke="#111" stroke-width="3.5"/>
<text x="244" y="1688.1" font-size="38" text-anchor="end" textLength="62" lengthAdjust="spacingAndGlyphs">-9.6</text>
<line x1="252.5" y1="1770.9" x2="263.5" y2="1770.9" stroke="#111" stroke-width="3.5"/>
<text x="244" y="1783.4" font-size="38" text-anchor="end" textLength="81" lengthAdjust="spacingAndGlyphs">-10.0</text>
<line x1="252.5" y1="1866.2" x2="263.5" y2="1866.2" stroke="#111" stroke-width="3.5"/>
<text x="244" y="1878.8" font-size="38" text-anchor="end" textLength="81" lengthAdjust="spacingAndGlyphs">-10.4</text>
<line x1="252.5" y1="1961.6" x2="263.5" y2="1961.6" stroke="#111" stroke-width="3.5"/>
<text x="244" y="1974.1" font-size="38" text-anchor="end" textLength="81" lengthAdjust="spacingAndGlyphs">-10.8</text>
<line x1="252.5" y1="2056.9" x2="263.5" y2="2056.9" stroke="#111" stroke-width="3.5"/>
<text x="244" y="2069.4" font-size="38" text-anchor="end" textLength="81" lengthAdjust="spacingAndGlyphs">-11.2</text>
<line x1="257.5" y1="1627.9" x2="263.5" y2="1627.9" stroke="#111" stroke-width="3.5"/>
<line x1="257.5" y1="1723.2" x2="263.5" y2="1723.2" stroke="#111" stroke-width="3.5"/>
<line x1="257.5" y1="1818.6" x2="263.5" y2="1818.6" stroke="#111" stroke-width="3.5"/>
<line x1="257.5" y1="1913.9" x2="263.5" y2="1913.9" stroke="#111" stroke-width="3.5"/>
<line x1="257.5" y1="2009.3" x2="263.5" y2="2009.3" stroke="#111" stroke-width="3.5"/>
<line x1="324.9" y1="2106.3" x2="324.9" y2="2117.3" stroke="#111" stroke-width="3.5"/>
<text x="324.9" y="2154" font-size="38" text-anchor="middle" textLength="49" lengthAdjust="spacingAndGlyphs">1.0</text>
<line x1="447.3" y1="2106.3" x2="447.3" y2="2117.3" stroke="#111" stroke-width="3.5"/>
<text x="447.3" y="2154" font-size="38" text-anchor="middle" textLength="49" lengthAdjust="spacingAndGlyphs">0.8</text>
<line x1="569.7" y1="2106.3" x2="569.7" y2="2117.3" stroke="#111" stroke-width="3.5"/>
<text x="569.7" y="2154" font-size="38" text-anchor="middle" textLength="49" lengthAdjust="spacingAndGlyphs">0.6</text>
<line x1="692.1" y1="2106.3" x2="692.1" y2="2117.3" stroke="#111" stroke-width="3.5"/>
<text x="692.1" y="2154" font-size="38" text-anchor="middle" textLength="49" lengthAdjust="spacingAndGlyphs">0.4</text>
<line x1="814.5" y1="2106.3" x2="814.5" y2="2117.3" stroke="#111" stroke-width="3.5"/>
<text x="814.5" y="2154" font-size="38" text-anchor="middle" textLength="49" lengthAdjust="spacingAndGlyphs">0.2</text>
<line x1="936.9" y1="2106.3" x2="936.9" y2="2117.3" stroke="#111" stroke-width="3.5"/>
<text x="936.9" y="2154" font-size="38" text-anchor="middle" textLength="49" lengthAdjust="spacingAndGlyphs">0.0</text>
<line x1="386.1" y1="2106.3" x2="386.1" y2="2112.3" stroke="#111" stroke-width="3.5"/>
<line x1="508.5" y1="2106.3" x2="508.5" y2="2112.3" stroke="#111" stroke-width="3.5"/>
<line x1="630.9" y1="2106.3" x2="630.9" y2="2112.3" stroke="#111" stroke-width="3.5"/>
<line x1="753.3" y1="2106.3" x2="753.3" y2="2112.3" stroke="#111" stroke-width="3.5"/>
<line x1="875.7" y1="2106.3" x2="875.7" y2="2112.3" stroke="#111" stroke-width="3.5"/>
<rect x="263.5" y="1532.5" width="735.5" height="573.8" fill="none" stroke="#111" stroke-width="4.5"/>
<text x="525.9" y="2192" font-size="38" textLength="212" lengthAdjust="spacingAndGlyphs">Potential (V)</text>
<text x="319.2" y="2051.2" font-size="38" textLength="334.6" lengthAdjust="spacingAndGlyphs">Discharging process</text>
<text transform="translate(142.2,1947.5) rotate(-90)" font-size="40" textLength="262.8" lengthAdjust="spacingAndGlyphs"><tspan>Log(D</tspan><tspan font-size="28" dy="9.5">Li</tspan><tspan font-size="18" dy="-12.7">+</tspan><tspan dy="3.2"> cm</tspan><tspan font-size="28" dy="-15.3">2</tspan><tspan dy="15.3"> s</tspan><tspan font-size="28" dy="-15.3">-1</tspan><tspan dy="15.3">)</tspan></text>
<rect x="361.8" y="1583.3" width="11" height="11" fill="#000000"/>
<rect x="445" y="1640.9" width="11" height="11" fill="#000000"/>
<rect x="512.1" y="1643" width="11" height="11" fill="#000000"/>
<rect x="569.7" y="1645.1" width="11" height="11" fill="#000000"/>
<rect x="623" y="1646.2" width="11" height="11" fill="#000000"/>
<rect x="669.9" y="1651.5" width="11" height="11" fill="#000000"/>
<rect x="709" y="1660.5" width="11" height="11" fill="#000000"/>
<rect x="742.3" y="1671.2" width="11" height="11" fill="#000000"/>
<rect x="771.5" y="1677.5" width="11" height="11" fill="#000000"/>
<rect x="797.5" y="1694.5" width="11" height="11" fill="#000000"/>
<rect x="815.1" y="1716.3" width="11" height="11" fill="#000000"/>
<rect x="838.6" y="1739.8" width="11" height="11" fill="#000000"/>
<rect x="855.3" y="1762" width="11" height="11" fill="#000000"/>
<rect x="867.8" y="1774.5" width="11" height="11" fill="#000000"/>
<rect x="881.6" y="1802.2" width="11" height="11" fill="#000000"/>
<rect x="891.4" y="1826.2" width="11" height="11" fill="#000000"/>
<rect x="900" y="1866.3" width="11" height="11" fill="#000000"/>
<rect x="909.2" y="1891.2" width="11" height="11" fill="#000000"/>
<rect x="922" y="1998.4" width="11" height="11" fill="#000000"/>
<circle cx="362" cy="1608" r="6" fill="#ff0000"/>
<circle cx="439.8" cy="1649.6" r="6" fill="#ff0000"/>
<circle cx="507" cy="1650.6" r="6" fill="#ff0000"/>
<circle cx="566.7" cy="1652.7" r="6" fill="#ff0000"/>
<circle cx="621" cy="1652.7" r="6" fill="#ff0000"/>
<circle cx="668" cy="1657" r="6" fill="#ff0000"/>
<circle cx="708.3" cy="1664.3" r="6" fill="#ff0000"/>
<circle cx="744.4" cy="1667.7" r="6" fill="#ff0000"/>
<circle cx="776.2" cy="1676.7" r="6" fill="#ff0000"/>
<circle cx="802.6" cy="1684.4" r="6" fill="#ff0000"/>
<circle cx="826.1" cy="1697.5" r="6" fill="#ff0000"/>
<circle cx="846.9" cy="1710.7" r="6" fill="#ff0000"/>
<circle cx="864.2" cy="1724.5" r="6" fill="#ff0000"/>
<circle cx="879.5" cy="1739.1" r="6" fill="#ff0000"/>
<circle cx="892" cy="1750.9" r="6" fill="#ff0000"/>
<circle cx="903.5" cy="1771.2" r="6" fill="#ff0000"/>
<circle cx="912" cy="1794.2" r="6" fill="#ff0000"/>
<circle cx="918" cy="1813.9" r="6" fill="#ff0000"/>
<circle cx="923.9" cy="1834.9" r="6" fill="#ff0000"/>
<circle cx="929.1" cy="1880.3" r="6" fill="#ff0000"/>
<polygon points="373.7,1578.6 380.5,1590.5 366.9,1590.5" fill="#00ff00" stroke="#00ff00" stroke-width="0" stroke-linejoin="round"/>
<polygon points="452.6,1633 459.4,1645 445.8,1645" fill="#00ff00" stroke="#00ff00" stroke-width="0" stroke-linejoin="round"/>
<polygon points="518.7,1635 525.5,1647 511.9,1647" fill="#00ff00" stroke="#00ff00" stroke-width="0" stroke-linejoin="round"/>
<polygon points="576.3,1637.2 583.1,1649.2 569.5,1649.2" fill="#00ff00" stroke="#00ff00" stroke-width="0" stroke-linejoin="round"/>
<polygon points="628.5,1639.5 635.3,1651.4 621.7,1651.4" fill="#00ff00" stroke="#00ff00" stroke-width="0" stroke-linejoin="round"/>
<polygon points="674.4,1645.8 681.2,1657.7 667.6,1657.7" fill="#00ff00" stroke="#00ff00" stroke-width="0" stroke-linejoin="round"/>
<polygon points="713.9,1653.8 720.7,1665.8 707.1,1665.8" fill="#00ff00" stroke="#00ff00" stroke-width="0" stroke-linejoin="round"/>
<polygon points="747.8,1664.2 754.6,1676.2 741,1676.2" fill="#00ff00" stroke="#00ff00" stroke-width="0" stroke-linejoin="round"/>
<polygon points="778.3,1674.6 785.1,1686.5 771.5,1686.5" fill="#00ff00" stroke="#00ff00" stroke-width="0" stroke-linejoin="round"/>
<polygon points="804,1691.2 810.8,1703.2 797.2,1703.2" fill="#00ff00" stroke="#00ff00" stroke-width="0" stroke-linejoin="round"/>
<polygon points="826.8,1706.5 833.6,1718.5 820,1718.5" fill="#00ff00" stroke="#00ff00" stroke-width="0" stroke-linejoin="round"/>
<polygon points="841.4,1734.2 848.2,1746.2 834.6,1746.2" fill="#00ff00" stroke="#00ff00" stroke-width="0" stroke-linejoin="round"/>
<polygon points="859.4,1753.6 866.2,1765.5 852.6,1765.5" fill="#00ff00" stroke="#00ff00" stroke-width="0" stroke-linejoin="round"/>
<polygon points="876.5,1777.3 883.3,1789.2 869.7,1789.2" fill="#00ff00" stroke="#00ff00" stroke-width="0" stroke-linejoin="round"/>
<polygon points="887.7,1805.6 894.5,1817.5 880.9,1817.5" fill="#00ff00" stroke="#00ff00" stroke-width="0" stroke-linejoin="round"/>
<polygon points="896.9,1834.5 903.7,1846.5 890.1,1846.5" fill="#00ff00" stroke="#00ff00" stroke-width="0" stroke-linejoin="round"/>
<polygon points="909.4,1867.5 916.2,1879.4 902.6,1879.4" fill="#00ff00" stroke="#00ff00" stroke-width="0" stroke-linejoin="round"/>
<polygon points="912.7,1895 919.5,1907 905.9,1907" fill="#00ff00" stroke="#00ff00" stroke-width="0" stroke-linejoin="round"/>
<polygon points="918.6,1927.2 925.4,1939.2 911.8,1939.2" fill="#00ff00" stroke="#00ff00" stroke-width="0" stroke-linejoin="round"/>
<polygon points="923.9,1965.3 930.7,1977.2 917.1,1977.2" fill="#00ff00" stroke="#00ff00" stroke-width="0" stroke-linejoin="round"/>
<polygon points="375.8,1625.5 382.6,1613.6 369,1613.6" fill="#0000ff" stroke="#0000ff" stroke-width="0" stroke-linejoin="round"/>
<polygon points="460,1670.4 466.8,1658.5 453.2,1658.5" fill="#0000ff" stroke="#0000ff" stroke-width="0" stroke-linejoin="round"/>
<polygon points="532.6,1672.5 539.4,1660.5 525.8,1660.5" fill="#0000ff" stroke="#0000ff" stroke-width="0" stroke-linejoin="round"/>
<polygon points="596.5,1674.7 603.3,1662.8 589.7,1662.8" fill="#0000ff" stroke="#0000ff" stroke-width="0" stroke-linejoin="round"/>
<polygon points="652,1679 658.8,1667 645.2,1667" fill="#0000ff" stroke="#0000ff" stroke-width="0" stroke-linejoin="round"/>
<polygon points="700,1685.2 706.8,1673.3 693.2,1673.3" fill="#0000ff" stroke="#0000ff" stroke-width="0" stroke-linejoin="round"/>
<polygon points="740.9,1694.8 747.7,1682.8 734.1,1682.8" fill="#0000ff" stroke="#0000ff" stroke-width="0" stroke-linejoin="round"/>
<polygon points="774.8,1703 781.6,1691.1 768,1691.1" fill="#0000ff" stroke="#0000ff" stroke-width="0" stroke-linejoin="round"/>
<polygon points="804,1715.5 810.8,1703.6 797.2,1703.6" fill="#0000ff" stroke="#0000ff" stroke-width="0" stroke-linejoin="round"/>
<polygon points="828.9,1730.2 835.7,1718.2 822.1,1718.2" fill="#0000ff" stroke="#0000ff" stroke-width="0" stroke-linejoin="round"/>
<polygon points="848.3,1744 855.1,1732 841.5,1732" fill="#0000ff" stroke="#0000ff" stroke-width="0" stroke-linejoin="round"/>
<polygon points="867.5,1765.5 874.3,1753.5 860.7,1753.5" fill="#0000ff" stroke="#0000ff" stroke-width="0" stroke-linejoin="round"/>
<polygon points="883.1,1786 889.9,1774 876.3,1774" fill="#0000ff" stroke="#0000ff" stroke-width="0" stroke-linejoin="round"/>
<polygon points="897.6,1816.2 904.4,1804.3 890.8,1804.3" fill="#0000ff" stroke="#0000ff" stroke-width="0" stroke-linejoin="round"/>
<polygon points="908.1,1850.5 914.9,1838.5 901.3,1838.5" fill="#0000ff" stroke="#0000ff" stroke-width="0" stroke-linejoin="round"/>
<polygon points="915.3,1870.9 922.1,1859 908.5,1859" fill="#0000ff" stroke="#0000ff" stroke-width="0" stroke-linejoin="round"/>
<polygon points="923.9,1907.7 930.7,1895.8 917.1,1895.8" fill="#0000ff" stroke="#0000ff" stroke-width="0" stroke-linejoin="round"/>
<polygon points="927.2,1937.9 934,1926 920.4,1926" fill="#0000ff" stroke="#0000ff" stroke-width="0" stroke-linejoin="round"/>
<rect x="875.1" y="1557.2" width="11.7" height="11.7" fill="#000000"/>
<text x="919.6" y="1573.4" font-size="27" textLength="62" lengthAdjust="spacingAndGlyphs">A600</text>
<circle cx="881" cy="1597.5" r="6.3" fill="#ff0000"/>
<text x="919.6" y="1607.8" font-size="27" textLength="62" lengthAdjust="spacingAndGlyphs">A900</text>
<polygon points="881,1622.4 888.2,1635 873.8,1635" fill="#00ff00" stroke="#00ff00" stroke-width="0" stroke-linejoin="round"/>
<text x="919.6" y="1640" font-size="27" textLength="62" lengthAdjust="spacingAndGlyphs">H600</text>
<polygon points="881,1674 888.2,1661.4 873.8,1661.4" fill="#0000ff" stroke="#0000ff" stroke-width="0" stroke-linejoin="round"/>
<text x="919.6" y="1674.5" font-size="27" textLength="62" lengthAdjust="spacingAndGlyphs">H900</text>
<text x="1056" y="1565" font-size="80" textLength="30.2" lengthAdjust="spacingAndGlyphs">f</text>
<polygon points="1579,1787 1638.9,1840.3 1616,1926.7 1542,1926.7 1519.1,1840.3" fill="none" stroke="#c8c8c8" stroke-width="2" stroke-linejoin="round"/>
<polygon points="1579,1709.7 1698.8,1816.5 1653.1,1989.2 1504.9,1989.2 1459.2,1816.5" fill="none" stroke="#c8c8c8" stroke-width="2" stroke-linejoin="round"/>
<polygon points="1579,1632.5 1758.7,1792.6 1690.1,2051.7 1467.9,2051.7 1399.3,1792.6" fill="none" stroke="#c8c8c8" stroke-width="2" stroke-linejoin="round"/>
<polygon points="1579,1555.2 1818.7,1768.7 1727.1,2114.2 1430.9,2114.2 1339.3,1768.7" fill="none" stroke="#c8c8c8" stroke-width="2" stroke-linejoin="round"/>
<line x1="1579" y1="1864.2" x2="1579" y2="1555.2" stroke="#888" stroke-width="2.6"/>
<line x1="1579" y1="1864.2" x2="1818.7" y2="1768.7" stroke="#555" stroke-width="2.2"/>
<line x1="1579" y1="1864.2" x2="1727.1" y2="2114.2" stroke="#555" stroke-width="2.2"/>
<line x1="1579" y1="1864.2" x2="1430.9" y2="2114.2" stroke="#555" stroke-width="2.2"/>
<line x1="1579" y1="1864.2" x2="1339.3" y2="1768.7" stroke="#555" stroke-width="2.2"/>
<polygon points="1579,1618.5 1744.1,1798.4 1640,1967.2 1496.6,2003.2 1408.4,1796.2" fill="none" stroke="#222" stroke-width="2.6" stroke-linejoin="round"/>
<polygon points="1579,1607.1 1759.7,1792.2 1648.9,1982.2 1467.3,2052.7 1348.9,1772.5" fill="none" stroke="#ff0000" stroke-width="2.6" stroke-linejoin="round"/>
<polygon points="1579,1625.3 1715.8,1809.7 1639,1965.4 1502.3,1993.7 1407.4,1795.8" fill="none" stroke="#00ff00" stroke-width="3.2" stroke-linejoin="round"/>
<polygon points="1579,1655 1701.9,1815.2 1637.4,1962.7 1513.4,1974.9 1426.6,1803.5" fill="none" stroke="#0000ff" stroke-width="2.6" stroke-linejoin="round"/>
<ellipse cx="1579" cy="1618.5" rx="5.6" ry="6.5" fill="#000000"/>
<ellipse cx="1744.1" cy="1798.4" rx="5.6" ry="6.5" fill="#000000"/>
<ellipse cx="1640" cy="1967.2" rx="5.6" ry="6.5" fill="#000000"/>
<ellipse cx="1496.6" cy="2003.2" rx="5.6" ry="6.5" fill="#000000"/>
<ellipse cx="1408.4" cy="1796.2" rx="5.6" ry="6.5" fill="#000000"/>
<ellipse cx="1579" cy="1607.1" rx="5.6" ry="6.5" fill="#ff0000"/>
<ellipse cx="1759.7" cy="1792.2" rx="5.6" ry="6.5" fill="#ff0000"/>
<ellipse cx="1648.9" cy="1982.2" rx="5.6" ry="6.5" fill="#ff0000"/>
<ellipse cx="1467.3" cy="2052.7" rx="5.6" ry="6.5" fill="#ff0000"/>
<ellipse cx="1348.9" cy="1772.5" rx="5.6" ry="6.5" fill="#ff0000"/>
<ellipse cx="1579" cy="1625.3" rx="5.6" ry="6.5" fill="#00ff00"/>
<ellipse cx="1715.8" cy="1809.7" rx="5.6" ry="6.5" fill="#00ff00"/>
<ellipse cx="1639" cy="1965.4" rx="5.6" ry="6.5" fill="#00ff00"/>
<ellipse cx="1502.3" cy="1993.7" rx="5.6" ry="6.5" fill="#00ff00"/>
<ellipse cx="1407.4" cy="1795.8" rx="5.6" ry="6.5" fill="#00ff00"/>
<ellipse cx="1579" cy="1655" rx="5.6" ry="6.5" fill="#0000ff"/>
<ellipse cx="1701.9" cy="1815.2" rx="5.6" ry="6.5" fill="#0000ff"/>
<ellipse cx="1637.4" cy="1962.7" rx="5.6" ry="6.5" fill="#0000ff"/>
<ellipse cx="1513.4" cy="1974.9" rx="5.6" ry="6.5" fill="#0000ff"/>
<ellipse cx="1426.6" cy="1803.5" rx="5.6" ry="6.5" fill="#0000ff"/>
<text x="1572" y="1563" font-size="32" text-anchor="end" textLength="38" lengthAdjust="spacingAndGlyphs">400</text>
<text x="1572" y="1641.5" font-size="32" text-anchor="end" textLength="38" lengthAdjust="spacingAndGlyphs">300</text>
<text x="1572" y="1719" font-size="32" text-anchor="end" textLength="38" lengthAdjust="spacingAndGlyphs">200</text>
<text x="1572" y="1797" font-size="32" text-anchor="end" textLength="38" lengthAdjust="spacingAndGlyphs">100</text>
<text x="1636" y="1825" font-size="32" text-anchor="middle" textLength="26" lengthAdjust="spacingAndGlyphs">50</text>
<text x="1697" y="1801" font-size="32" text-anchor="middle" textLength="39" lengthAdjust="spacingAndGlyphs">100</text>
<text x="1757" y="1778" font-size="32" text-anchor="middle" textLength="39" lengthAdjust="spacingAndGlyphs">150</text>
<text x="1816" y="1754" font-size="32" text-anchor="middle" textLength="39" lengthAdjust="spacingAndGlyphs">200</text>
<text x="1631.3" y="1916.5" font-size="32" text-anchor="middle" textLength="26" lengthAdjust="spacingAndGlyphs">25</text>
<text x="1668.7" y="1979.5" font-size="32" text-anchor="middle" textLength="26" lengthAdjust="spacingAndGlyphs">50</text>
<text x="1707.5" y="2042" font-size="32" text-anchor="middle" textLength="26" lengthAdjust="spacingAndGlyphs">75</text>
<text x="1750.7" y="2106" font-size="32" text-anchor="middle" textLength="39" lengthAdjust="spacingAndGlyphs">100</text>
<text x="1558.2" y="1963" font-size="32" text-anchor="middle" textLength="26" lengthAdjust="spacingAndGlyphs">70</text>
<text x="1526.9" y="2026" font-size="32" text-anchor="middle" textLength="39" lengthAdjust="spacingAndGlyphs">140</text>
<text x="1491" y="2088.5" font-size="32" text-anchor="middle" textLength="39" lengthAdjust="spacingAndGlyphs">210</text>
<text x="1453.7" y="2149.5" font-size="32" text-anchor="middle" textLength="39" lengthAdjust="spacingAndGlyphs">280</text>
<text x="1517.9" y="1877.5" font-size="32" text-anchor="middle" textLength="26" lengthAdjust="spacingAndGlyphs">25</text>
<text x="1456" y="1852" font-size="32" text-anchor="middle" textLength="26" lengthAdjust="spacingAndGlyphs">50</text>
<text x="1397" y="1825" font-size="32" text-anchor="middle" textLength="26" lengthAdjust="spacingAndGlyphs">75</text>
<text x="1335.5" y="1801.5" font-size="32" text-anchor="middle" textLength="39" lengthAdjust="spacingAndGlyphs">100</text>
<text x="1380" y="1528.2" font-size="31" textLength="394.6" lengthAdjust="spacingAndGlyphs">Initial reversible capacity at 0.1 Ag-1</text>
<text x="1765.5" y="1693.6" font-size="31" textLength="309.4" lengthAdjust="spacingAndGlyphs">Reversible capacity at 5 Ag-1</text>
<text x="1116.6" y="1689.5" font-size="33" textLength="257.6" lengthAdjust="spacingAndGlyphs">Capacity retention after</text>
<text x="1127.1" y="1739.1" font-size="33" textLength="214" lengthAdjust="spacingAndGlyphs">1000 cycling at 1 Ag</text>
<text x="1343" y="1722" font-size="22" textLength="17" lengthAdjust="spacingAndGlyphs">-1</text>
<text x="1130" y="2107.5" font-size="33" textLength="264.3" lengthAdjust="spacingAndGlyphs">Reversible capacity after</text>
<text x="1149.7" y="2159.3" font-size="33" textLength="211" lengthAdjust="spacingAndGlyphs">1000cycling at 1 Ag</text>
<text x="1362" y="2142" font-size="22" textLength="17" lengthAdjust="spacingAndGlyphs">-1</text>
<text x="1712" y="2150.9" font-size="33" textLength="285" lengthAdjust="spacingAndGlyphs">Capacity retention at 5 Ag</text>
<text x="1998" y="2134" font-size="22" textLength="17" lengthAdjust="spacingAndGlyphs">-1</text>
<line x1="1844.5" y1="1956" x2="1903.5" y2="1956" stroke="#111" stroke-width="3.2"/>
<ellipse cx="1874.2" cy="1956" rx="6" ry="7" fill="#000000"/>
<text x="1908.8" y="1966.5" font-size="31" textLength="56" lengthAdjust="spacingAndGlyphs">A600</text>
<line x1="1844.5" y1="1993.9" x2="1903.5" y2="1993.9" stroke="#ff0000" stroke-width="3.2"/>
<ellipse cx="1874.2" cy="1993.9" rx="6" ry="7" fill="#ff0000"/>
<text x="1908.8" y="2004.4" font-size="31" textLength="56" lengthAdjust="spacingAndGlyphs">A900</text>
<line x1="1844.5" y1="2033.2" x2="1903.5" y2="2033.2" stroke="#00ff00" stroke-width="4.5"/>
<ellipse cx="1874.2" cy="2033.2" rx="6" ry="7" fill="#00ff00"/>
<text x="1908.8" y="2043.7" font-size="31" textLength="56" lengthAdjust="spacingAndGlyphs">H600</text>
<line x1="1844.5" y1="2072.1" x2="1903.5" y2="2072.1" stroke="#0000ff" stroke-width="3.2"/>
<ellipse cx="1874.2" cy="2072.1" rx="6" ry="7" fill="#0000ff"/>
<text x="1908.8" y="2082.6" font-size="31" textLength="56" lengthAdjust="spacingAndGlyphs">H900</text></svg></body></html>
